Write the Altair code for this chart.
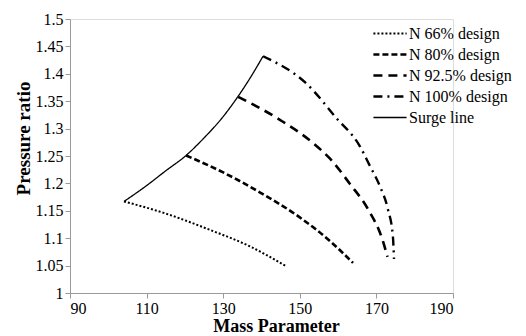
import altair as alt
import pandas as pd

series_names = ["N 66% design", "N 80% design", "N 92.5% design", "N 100% design", "Surge line"]

x_66 = [104.1, 115.0, 126.6, 137.0, 146.6]
y_66 = [1.167, 1.145, 1.115, 1.085, 1.048]

x_80 = [120.3, 130.0, 140.0, 150.0, 158.0, 163.9]
y_80 = [1.251, 1.220, 1.182, 1.138, 1.094, 1.055]

x_925 = [133.9, 144.8, 153.4, 157.9, 163.1, 167.8, 171.5, 172.9]
y_925 = [1.358, 1.316, 1.274, 1.245, 1.199, 1.153, 1.099, 1.066]

x_100 = [140.4, 151.9, 159.7, 165.5, 168.3, 170.9, 173.0, 174.3, 174.6]
y_100 = [1.432, 1.381, 1.318, 1.270, 1.232, 1.195, 1.153, 1.104, 1.062]

x_surge = [104.1, 110.0, 115.0, 120.3, 125.0, 130.0, 134.0, 137.0, 140.4]
y_surge = [1.167, 1.196, 1.223, 1.251, 1.283, 1.322, 1.360, 1.392, 1.432]

x_ticks = [90, 110, 130, 150, 170, 190]
y_ticks = [1, 1.05, 1.1, 1.15, 1.2, 1.25, 1.3, 1.35, 1.4, 1.45, 1.5]

dash_range = [[2, 2], [6, 3], [9, 6], [9, 5, 2, 5], [1, 0]]
width_range = [2, 2.6, 2.6, 2.4, 1.3]

rows = []
for name, xs, ys in zip(series_names,
                        [x_66, x_80, x_925, x_100, x_surge],
                        [y_66, y_80, y_925, y_100, y_surge]):
    for i, (xv, yv) in enumerate(zip(xs, ys)):
        rows.append({"series": name, "x": xv, "y": yv, "order": i})
df = pd.DataFrame(rows)

font = "Liberation Serif"

legend = alt.Legend(title=None, orient="none", legendX=302, legendY=5,
                    symbolType="stroke", symbolSize=1100, clipHeight=19,
                    symbolStrokeColor="black",
                    labelFont=font, labelFontSize=16, labelColor="black",
                    labelOffset=1, rowPadding=2)

chart = alt.Chart(df).mark_line(color="black", interpolate="monotone").encode(
    x=alt.X("x:Q", scale=alt.Scale(domain=[90, 190], nice=False),
            axis=alt.Axis(title="Mass Parameter", values=x_ticks, grid=False,
                          domainColor="#9a9a9a", tickColor="#9a9a9a", tickSize=5,
                          labelFont=font, labelFontSize=16, labelColor="black",
                          labelPadding=2, titleFont=font, titleFontSize=18,
                          titleFontWeight="bold", titleColor="black", titlePadding=1,
                          titleX=206)),
    y=alt.Y("y:Q", scale=alt.Scale(domain=[1, 1.5], nice=False, zero=False),
            axis=alt.Axis(title="Pressure ratio", values=y_ticks, format="~g", grid=False,
                          domainColor="#9a9a9a", tickColor="#9a9a9a", tickSize=5,
                          labelFont=font, labelFontSize=16, labelColor="black",
                          labelPadding=2, titleFont=font, titleFontSize=19,
                          titleFontWeight="bold", titleColor="black", titlePadding=2,
                          titleY=119)),
    strokeDash=alt.StrokeDash("series:N",
                              scale=alt.Scale(type="ordinal", domain=series_names, range=dash_range),
                              legend=legend),
    strokeWidth=alt.StrokeWidth("series:N",
                                scale=alt.Scale(type="ordinal", domain=series_names, range=width_range),
                                legend=legend),
    detail="series:N",
    order="order:Q",
).properties(
    width=383, height=274,
    autosize=alt.AutoSizeParams(type="none"),
    padding={"left": 62, "top": 11, "right": 65, "bottom": 43},
).configure_view(stroke=None).configure(
    background="white", font=font
).configure_axis(labelFont=font, titleFont=font)

chart.save("out.html", embed_options={"renderer": "svg", "actions": False})
